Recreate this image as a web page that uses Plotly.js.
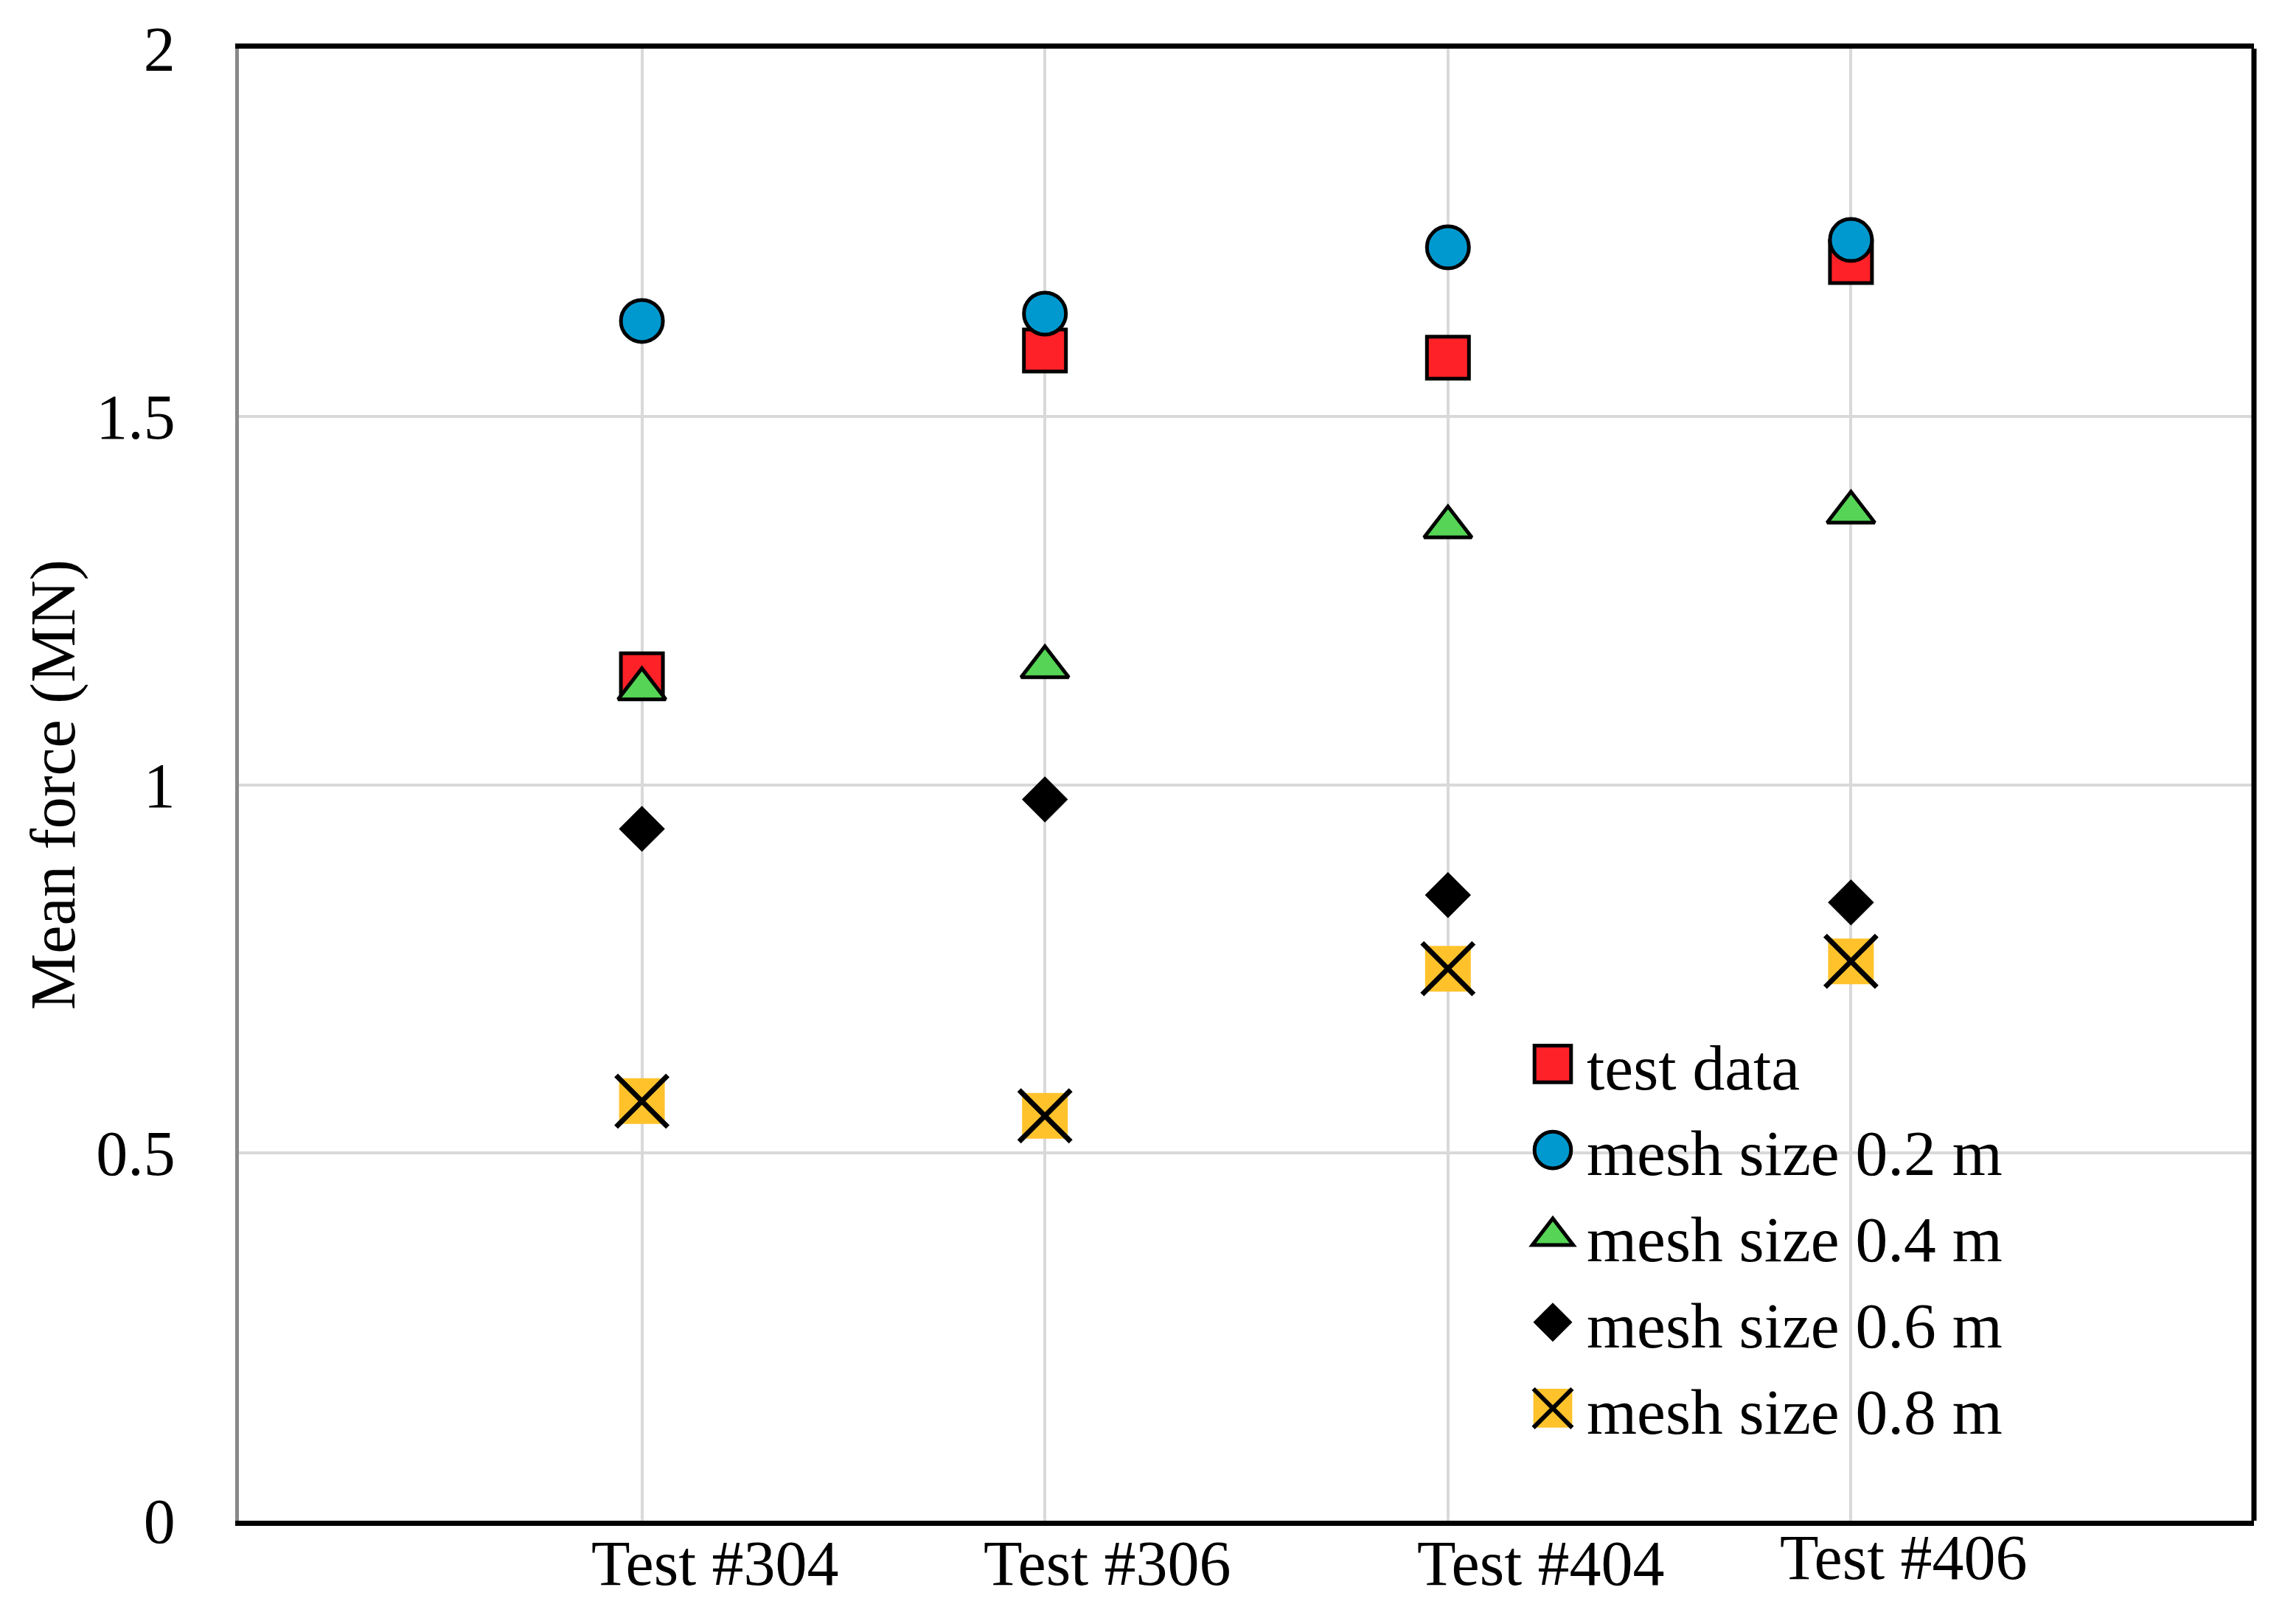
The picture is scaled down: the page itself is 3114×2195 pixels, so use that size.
<!DOCTYPE html>
<html>
<head>
<meta charset="utf-8">
<script src="https://cdn.plot.ly/plotly-3.0.1.min.js"></script>
<style>
html, body { margin: 0; padding: 0; background: #ffffff; }
#chart { width: 3114px; height: 2195px; }
</style>
</head>
<body>
<div id="chart"></div>
<script>
// ---- data ----
var categories = ["Test #304", "Test #306", "Test #404", "Test #406"];
var testData   = [1.15, 1.59, 1.58, 1.71];
var mesh02     = [1.63, 1.64, 1.73, 1.74];
var mesh04     = [1.13, 1.16, 1.35, 1.37];
var mesh06     = [0.94, 0.98, 0.85, 0.84];
var mesh08     = [0.57, 0.55, 0.75, 0.76];
var seriesNames = ["test data", "mesh size 0.2 m", "mesh size 0.4 m", "mesh size 0.6 m", "mesh size 0.8 m"];
var yTitle = "Mean force (MN)";

// ---- styling ----
var FONT = "Liberation Serif, Times New Roman, serif";
var RED = "#FF2128", BLUE = "#0099CF", GREEN = "#55D455", YELLOW = "#FFC22B";
var labelShift = [99, 85, 126, 72];     // px offsets of the category labels
var labelYShift = [0, 0, 0, 8];

var traces = [
  { x: categories, y: testData, name: seriesNames[0], type: "scatter", mode: "markers",
    marker: { symbol: "square", size: 57, color: RED, line: { color: "#000", width: 5 } } },
  { x: categories, y: mesh02, name: seriesNames[1], type: "scatter", mode: "markers",
    marker: { symbol: "circle", size: 57, color: BLUE, line: { color: "#000", width: 5 } } },
  { x: categories, y: mesh04, name: seriesNames[2], type: "scatter", mode: "markers",
    marker: { symbol: "triangle-up", size: 56, color: GREEN, line: { color: "#000", width: 5 } } },
  { x: categories, y: mesh06, name: seriesNames[3], type: "scatter", mode: "markers",
    marker: { symbol: "diamond", size: 48, color: "#000", line: { color: "#000", width: 0 } } },
  { x: categories, y: mesh08, name: seriesNames[4] + " bg", type: "scatter", mode: "markers", showlegend: false,
    marker: { symbol: "square", size: 62, color: YELLOW, line: { width: 0 } } },
  { x: categories, y: mesh08, name: seriesNames[4], type: "scatter", mode: "markers",
    marker: { symbol: "x-thin", size: 70, color: "#000", line: { color: "#000", width: 7 } } }
];

var annotations = categories.map(function (c, i) {
  return { x: c, y: 0, xref: "x", yref: "y", text: c, showarrow: false,
           xanchor: "center", yanchor: "top", xshift: labelShift[i], yshift: -8 + labelYShift[i],
           font: { family: FONT, size: 86, color: "#000" } };
});

var layout = {
  width: 3114, height: 2195,
  paper_bgcolor: "#ffffff", plot_bgcolor: "#ffffff",
  margin: { l: 324, r: 57, t: 66, b: 132, pad: 0 },
  font: { family: FONT, size: 86, color: "#000" },
  showlegend: true,
  xaxis: {
    type: "category", range: [-1, 4], showticklabels: false, ticks: "",
    showgrid: true, gridcolor: "#D9D9D9", gridwidth: 4,
    showline: true, mirror: true, linecolor: "#000", linewidth: 7, zeroline: false, fixedrange: true
  },
  yaxis: {
    range: [0, 2], dtick: 0.5, tick0: 0, ticks: "", ticklabelstandoff: 64,
    tickfont: { family: FONT, size: 86, color: "#000" },
    showgrid: true, gridcolor: "#D9D9D9", gridwidth: 4, zeroline: false,
    showline: true, linecolor: "#898989", linewidth: 5,
    title: { text: yTitle, font: { family: FONT, size: 86, color: "#000" }, standoff: 2 },
    fixedrange: true
  },
  legend: {
    x: 0.6352, xanchor: "left", y: 0.342, yanchor: "top",
    bgcolor: "rgba(0,0,0,0)", borderwidth: 0,
    font: { family: FONT, size: 87.5, color: "#000" },
    itemwidth: 82, tracegroupgap: 0
  },
  shapes: [
    { type: "line", xref: "paper", yref: "paper", x0: 1, x1: 1, y0: 0, y1: 1,
      line: { color: "#000", width: 7 }, layer: "above" }
  ],
  annotations: annotations
};

Plotly.newPlot("chart", traces, layout, { staticPlot: true, displayModeBar: false }).then(function (gd) {
  // enlarge the legend symbols to match the plotted markers
  var scales = [3.1, 3.1, 3.0, 2.55, 3.3];
  var items = gd.querySelectorAll(".legend .traces");
  items.forEach(function (item, i) {
    var k = scales[i] || 3;
    var pts = item.querySelectorAll("path.scatterpts");
    pts.forEach(function (p) {
      var t = p.getAttribute("transform") || "";
      var sw = parseFloat(p.style.strokeWidth) || 0;
      p.setAttribute("transform", t + " scale(" + k + ")");
      if (sw) p.style.strokeWidth = (i === 4 ? 6 : sw) / k + "px";
      if (i === 4) {
        var sq = document.createElementNS("http://www.w3.org/2000/svg", "path");
        sq.setAttribute("d", "M8,8H-8V-8H8Z");
        sq.setAttribute("transform", t + " scale(" + k + ")");
        sq.style.fill = YELLOW;
        sq.style.stroke = "none";
        p.parentNode.insertBefore(sq, p);
      }
    });
  });
});
</script>
</body>
</html>
